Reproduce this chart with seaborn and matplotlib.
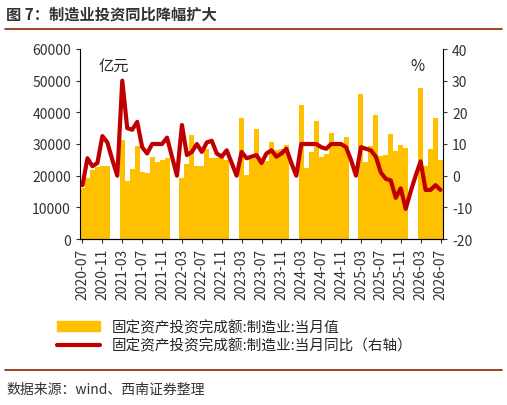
import numpy as np
import pandas as pd
import matplotlib.pyplot as plt
import seaborn as sns
from matplotlib.patches import Patch
from matplotlib.lines import Line2D

months = pd.period_range("2020-07", "2026-07", freq="M").strftime("%Y-%m").tolist()
nan = np.nan
# 制造业投资当月值（亿元），1-2月无数据
invest = [16200, 19400, 21700, 22600, 22900, 23100, nan, nan,
          31400, 18300, 22000, 29300, 21200, 20700, 26000, 24200, 25000, 25600, nan, nan,
          19400, 23600, 32700, 23100, 23100, 28400, 25600, 25600, 26300, 25000, nan, nan,
          38300, 20300, 25200, 34600, 24700, 24500, 30500, 28200, 28400, 29700, nan, nan,
          42200, 22300, 27400, 37400, 26000, 26800, 33500, 30000, 30000, 32100, nan, nan,
          45900, 24200, 29300, 39200, 26100, 26500, 33100, 27800, 29700, 28800, nan, nan,
          47800, 23100, 28400, 38300, 25000]
# 当月同比（%，右轴）
yoy = [-3, 5.5, 3, 4, 12.5, 10.5, 5, 0,
       30, 15, 14.5, 17, 9, 7, 10, 10, 10, 12, 6, 0,
       16, 6.5, 7.5, 10, 7.5, 10.5, 11, 7, 6, 8, 4, 0,
       7.5, 5.5, 6, 6.5, 4, 7, 8, 6, 7, 8.5, 4, 0,
       10, 10, 10, 10, 9, 8.5, 10, 10, 10, 9, 5, 0,
       9, 8.5, 8, 6, 1, -1, -1.5, -7, -4, -10.5, -5, 0,
       4.5, -4.5, -4.5, -3, -4.5]

sns.set_style("white")
plt.rcParams['font.family'] = ['Noto Sans CJK SC', 'DejaVu Sans']
plt.rcParams['axes.unicode_minus'] = False

fig = plt.figure(figsize=(5.07, 4.06), dpi=100)
ax = fig.add_axes([80 / 507, 1 - 240 / 406, 363 / 507, 190 / 406])
df = pd.DataFrame({"m": range(len(months)), "v": invest})
sns.barplot(data=df, x="m", y="v", ax=ax, color="#FFC000", width=1.0,
            saturation=1, native_scale=True, linewidth=0)
ax.set_xlim(-0.5, len(months) - 0.5)
ax.set_ylim(0, 60000)
ax.set_yticks(range(0, 60001, 10000))
ax.set_xticks(range(0, len(months), 4))
ax.set_xticklabels(months[::4], rotation=90)
ax.set_xlabel("")
ax.set_ylabel("")
ax.tick_params(direction="out", length=3, labelsize=10, colors="#333333")
ax.tick_params(axis="x", bottom=True)
ax.tick_params(axis="y", left=True)
ax.text(0.05, 0.96, "亿元", transform=ax.transAxes, fontsize=11, va="top")

ax2 = ax.twinx()
sns.lineplot(x=range(len(months)), y=yoy, ax=ax2, color="#C00000", linewidth=3)
ax2.set_ylim(-20, 40)
ax2.set_yticks(range(-20, 41, 10))
ax2.tick_params(direction="out", length=3, labelsize=10, colors="#333333", right=True)
ax2.text(0.95, 0.96, "%", transform=ax2.transAxes, fontsize=11, va="top", ha="right")
for a in (ax, ax2):
    a.spines["top"].set_visible(False)
    for s in ("left", "right", "bottom"):
        a.spines[s].set_color("black")
ax.spines["right"].set_visible(False)
ax2.spines["left"].set_visible(False)

fig.text(0.012, 0.965, "图 7：制造业投资同比降幅扩大", fontsize=11, fontweight="bold",
         color="#333333", va="center")
fig.add_artist(Line2D([0.01, 0.99], [0.925, 0.925], color="#8B2500", lw=1.2))

handles = [Patch(color="#FFC000"), Line2D([], [], color="#C00000", lw=3)]
labels = ["固定资产投资完成额:制造业:当月值", "固定资产投资完成额:制造业:当月同比（右轴）"]
fig.legend(handles, labels, loc="upper left", bbox_to_anchor=(0.1, 0.225), frameon=False,
           fontsize=10.5, handlelength=3, labelspacing=0.3, borderaxespad=0)

fig.add_artist(Line2D([0.01, 0.99], [0.085, 0.085], color="#8B2500", lw=1.2))
fig.text(0.012, 0.04, "数据来源：wind、西南证券整理", fontsize=10, style="italic",
         color="#333333", va="center")

fig.savefig("out.png", dpi=100)
